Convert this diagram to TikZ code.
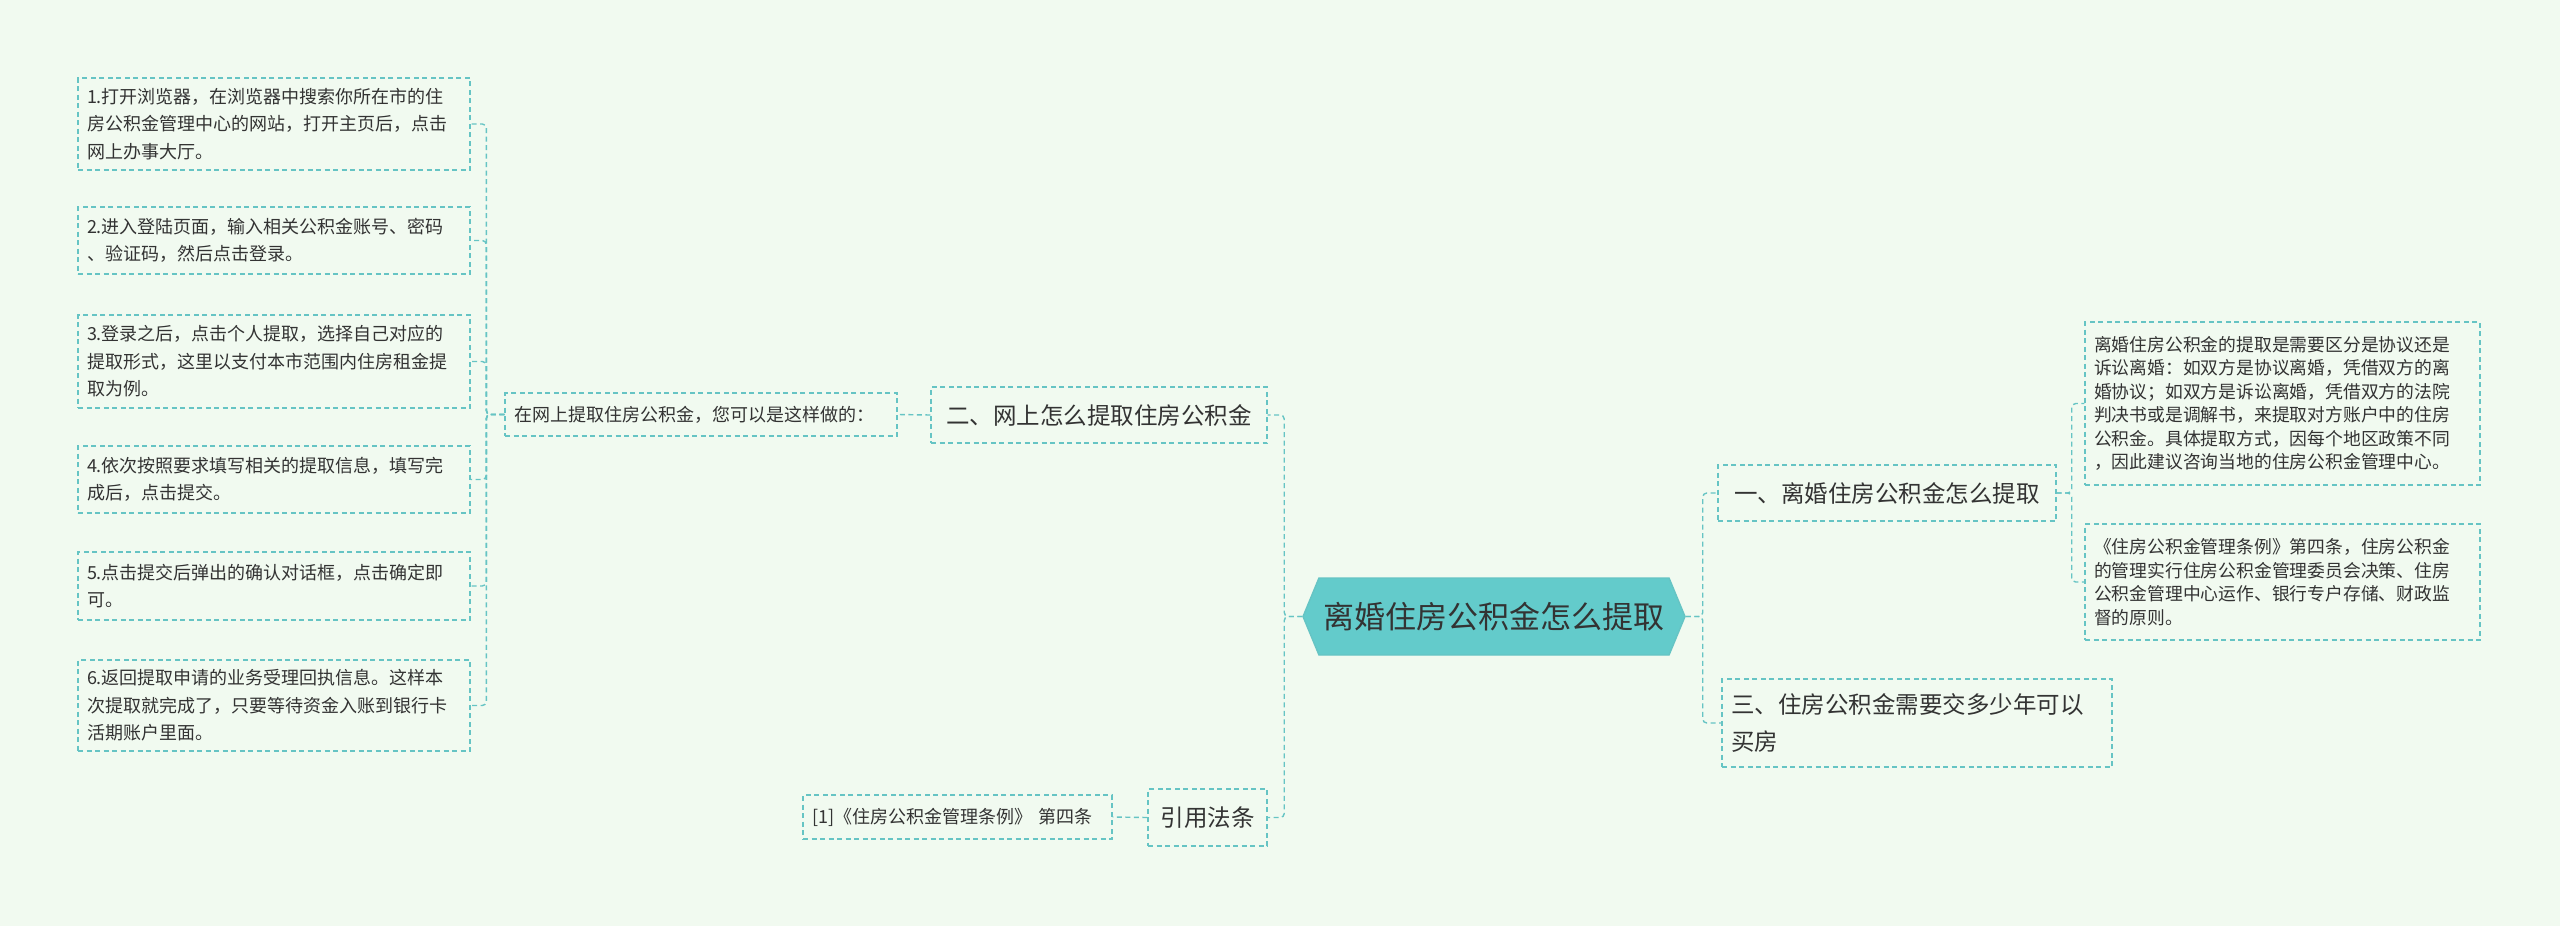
\documentclass[tikz,border=0pt]{standalone}
\usepackage{fontspec}
\setmainfont{Noto Sans CJK SC}
\usetikzlibrary{shapes.symbols}
\definecolor{bgc}{HTML}{F1FAF0}
\definecolor{linec}{HTML}{66C4C4}
\definecolor{rootc}{HTML}{63CBCB}
\definecolor{txtc}{HTML}{333333}
\tikzset{
  box/.style={draw=linec, dash pattern=on 5pt off 3.5pt, line width=1.4pt, text=txtc,
    align=left, inner xsep=9pt, inner ysep=4pt},
  leaf/.style={box, font=\fontsize{18}{27.5}\selectfont, minimum height=#1},
  topic/.style={box, font=\fontsize{23.5}{36}\selectfont, minimum height=56pt},
  conn/.style={draw=linec, dash pattern=on 5pt off 3.5pt, line width=1.4pt, rounded corners=4pt}
}
\begin{document}
\begin{tikzpicture}[x=1pt,y=-1pt]
\fill[bgc] (0,0) rectangle (2560,926);
\useasboundingbox (0,0) rectangle (2560,926);
% root
\node[signal, signal to=west and east, signal pointer angle=135, fill=rootc, draw=linec,
  line width=1.4pt, minimum width=382pt, minimum height=77pt, text=txtc,
  font=\fontsize{31}{36}\selectfont] (root) at (1494,616.5) {离婚住房公积金怎么提取};
% right side
\node[topic, minimum width=338pt] (yi) at (1887,493) {一、离婚住房公积金怎么提取};
\node[topic, text width=372pt, minimum height=88pt, font=\fontsize{23.5}{37}\selectfont] (san) at (1917,723)
  {三、住房公积金需要交多少年可以\\买房};
\node[leaf=163pt, text width=377pt, font=\fontsize{17.8}{23.5}\selectfont] (divA) at (2282.5,403.5)
  {离婚住房公积金的提取是需要区分是协议还是\\诉讼离婚：如双方是协议离婚，凭借双方的离\\婚协议；如双方是诉讼离婚，凭借双方的法院\\判决书或是调解书，来提取对方账户中的住房\\公积金。具体提取方式，因每个地区政策不同\\，因此建议咨询当地的住房公积金管理中心。};
\node[leaf=116pt, text width=377pt, font=\fontsize{17.8}{23.5}\selectfont] (divB) at (2282.5,582)
  {《住房公积金管理条例》第四条，住房公积金\\的管理实行住房公积金管理委员会决策、住房\\公积金管理中心运作、银行专户存储、财政监\\督的原则。};
% left side
\node[topic, minimum width=336pt] (er) at (1099,415) {二、网上怎么提取住房公积金};
\node[leaf=43pt, text width=374pt] (web) at (701,414.5) {在网上提取住房公积金，您可以是这样做的：};
\node[leaf=92pt, text width=374pt] (s1) at (274,124) {1.打开浏览器，在浏览器中搜索你所在市的住\\房公积金管理中心的网站，打开主页后，点击\\网上办事大厅。};
\node[leaf=67pt, text width=374pt] (s2) at (274,240.5) {2.进入登陆页面，输入相关公积金账号、密码\\、验证码，然后点击登录。};
\node[leaf=93pt, text width=374pt] (s3) at (274,361.5) {3.登录之后，点击个人提取，选择自己对应的\\提取形式，这里以支付本市范围内住房租金提\\取为例。};
\node[leaf=67pt, text width=374pt] (s4) at (274,479.5) {4.依次按照要求填写相关的提取信息，填写完\\成后，点击提交。};
\node[leaf=68pt, text width=374pt] (s5) at (274,586) {5.点击提交后弹出的确认对话框，点击确定即\\可。};
\node[leaf=91pt, text width=374pt] (s6) at (274,705.5) {6.返回提取申请的业务受理回执信息。这样本\\次提取就完成了，只要等待资金入账到银行卡\\活期账户里面。};
\node[topic, minimum width=119pt, minimum height=57pt] (cite) at (1207.5,817.5) {引用法条};
\node[leaf=44pt, text width=291pt] (law) at (957.5,817) {[1]《住房公积金管理条例》 第四条};
% connectors
\foreach \n in {er,cite} \draw[conn] (root.west) -- ++(-18,0) |- (\n.east);
\foreach \n in {yi,san} \draw[conn] (root.east) -- ++(17,0) |- (\n.west);
\foreach \n in {divA,divB} \draw[conn] (yi.east) -- ++(15,0) |- (\n.west);
\draw[conn] (er.west) -- (web.east);
\draw[conn] (cite.west) -- (law.east);
\foreach \n in {s1,s2,s3,s4,s5,s6} \draw[conn] (web.west) -- ++(-18,0) |- (\n.east);
\end{tikzpicture}
\end{document}
